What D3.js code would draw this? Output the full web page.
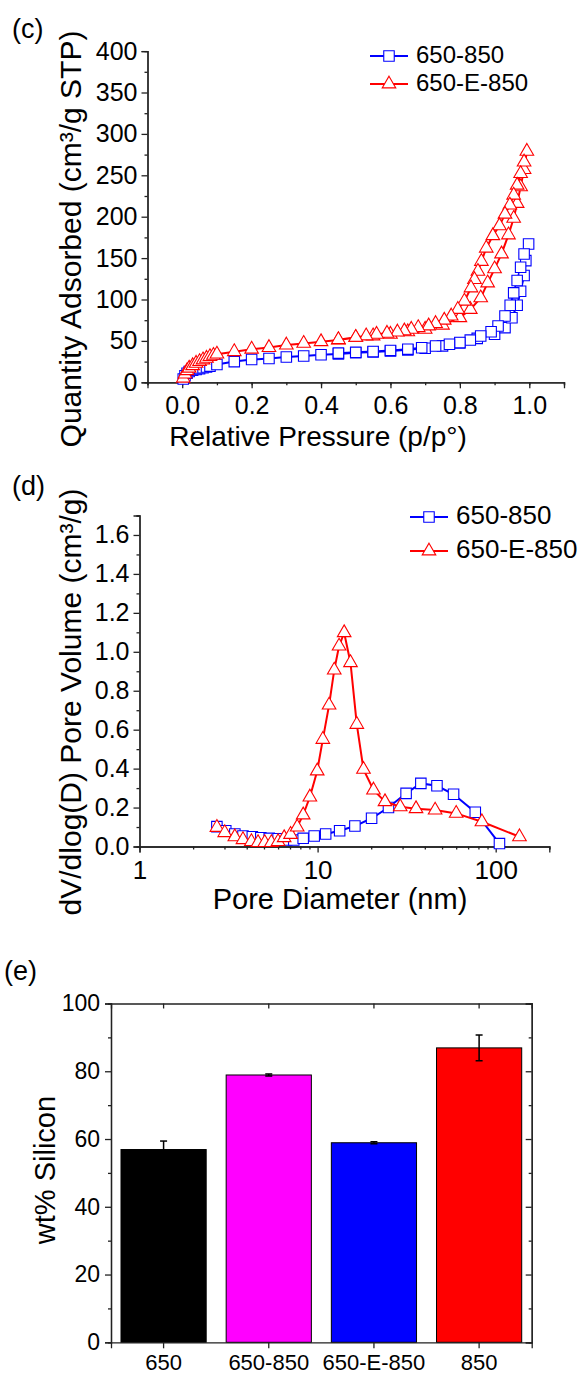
<!doctype HTML>
<html>
<head>
    <script src="https://d3js.org/d3.v7.min.js"></script>
    <style>
        body { margin: 0; background: #fff; }
        text { font-family: "Liberation Sans", Arial, sans-serif; fill: #000; }
    </style>
</head>
<body>
<script>
    // (c) N2 isotherms, [p/p0, quantity adsorbed]
    var isoBlueAds = [[0.003,4],[0.008,8],[0.014,11],[0.02,13],[0.03,14.5],[0.04,15.5],[0.05,16.5],[0.06,17.5],
        [0.07,18.5],[0.08,19.5],[0.1,21.5],[0.15,25],[0.2,27.5],[0.25,28.8],[0.3,30.5],[0.35,31.8],[0.4,33.2],
        [0.45,34.3],[0.5,35.6],[0.55,36.6],[0.6,37.8],[0.65,39.2],[0.7,41.2],[0.75,44],[0.8,47.5],[0.85,53],
        [0.9,58],[0.93,66],[0.95,78],[0.965,93],[0.975,110],[0.985,129],[0.99,147],[0.998,167]];
    var isoBlueDes = [[0.985,155],[0.975,139],[0.965,123],[0.955,108],[0.945,93],[0.93,80],[0.91,68],[0.89,61],
        [0.86,56],[0.83,51],[0.8,48],[0.77,46],[0.73,43.8],[0.69,41.8],[0.65,40],[0.6,38.5],[0.55,37.2],
        [0.5,36.2],[0.45,35.2]];
    var isoRedAds = [[0.003,5],[0.008,10],[0.014,14],[0.02,17],[0.03,20],[0.04,23],[0.05,25],[0.06,27],[0.07,29],
        [0.08,31],[0.09,32.5],[0.1,34],[0.15,37],[0.2,40],[0.25,42],[0.3,45],[0.35,47],[0.4,49],[0.45,51],
        [0.5,54],[0.55,56],[0.6,58],[0.65,61],[0.7,64],[0.75,69],[0.8,78],[0.83,88],[0.86,102],[0.88,120],
        [0.9,137],[0.92,155],[0.94,178],[0.955,198],[0.965,216],[0.975,236],[0.985,257],[0.993,279]];
    var isoRedDes = [[0.985,266],[0.975,252],[0.965,238],[0.955,226],[0.944,214],[0.93,203],[0.914,189],
        [0.895,177],[0.876,162],[0.862,146],[0.852,134],[0.842,124],[0.832,114],[0.813,98],[0.794,88],
        [0.775,80],[0.755,75],[0.73,71],[0.71,68],[0.68,66],[0.66,64],[0.64,62],[0.62,60.7],[0.59,59.2],
        [0.56,58],[0.53,56],[0.5,54.3],[0.45,51.5]];

    // (d) pore size distribution, [pore diameter nm, dV/dlog(D)]
    var psdBlue = [[2.72,0.102],[3.05,0.081],[3.43,0.064],[3.81,0.054],[4.3,0.05],[4.8,0.045],[5.35,0.042],
        [6.0,0.04],[6.7,0.033],[7.35,0.033],[8.3,0.042],[9.57,0.054],[11.1,0.064],[13.3,0.081],[16.2,0.105],
        [20.1,0.145],[25,0.2],[31.4,0.273],[38,0.324],[46.8,0.312],[58,0.268],[76.8,0.176],[105,0.015]];
    var psdRed = [[2.72,0.098],[3.01,0.071],[3.43,0.05],[3.81,0.035],[4.25,0.025],[4.63,0.02],[5.05,0.02],
        [5.5,0.02],[6.0,0.025],[6.49,0.045],[7.05,0.062],[7.68,0.1],[8.3,0.162],[9.05,0.254],[9.95,0.388],
        [10.7,0.55],[11.6,0.726],[12.4,0.906],[13.2,1.029],[14.1,1.098],[15.3,0.944],[16.6,0.627],[18.1,0.396],
        [20.6,0.29],[23.9,0.23],[29.1,0.204],[35.7,0.194],[45.7,0.187],[60,0.17],[83.7,0.127],[136,0.05]];

    // (e) silicon content
    var samples = ["650", "650-850", "650-E-850", "850"];
    var silicon = [56.9, 78.9, 58.9, 86.9];
    var siliconErr = [2.5, 0.3, 0.3, 3.8];

    var seriesNames = ["650-850", "650-E-850"];

    var W = 587, H = 1374;
    var svg = d3.select("body").append("svg")
        .attr("width", W)
        .attr("height", H);

    var axisColor = "#222";
    var square = d3.symbol().type(d3.symbolSquare).size(110);
    var triangle = d3.symbol().type(d3.symbolTriangle).size(80);

    function styleAxis(g, fs) {
        g.select(".domain").attr("stroke", axisColor).attr("stroke-width", 1.3);
        g.selectAll(".tick line").attr("stroke", axisColor).attr("stroke-width", 1.3);
        g.selectAll(".tick text").attr("font-size", fs + "px")
            .attr("font-family", '"Liberation Sans", Arial, sans-serif').attr("fill", "#000");
        g.attr("font-family", null).attr("font-size", null);
    }

    function drawSeries(g, data, xs, ys, color, sym) {
        g.append("path")
            .datum(data)
            .attr("fill", "none")
            .attr("stroke", color)
            .attr("stroke-width", 2)
            .attr("d", d3.line().x(d => xs(d[0])).y(d => ys(d[1])));
        g.selectAll(null)
            .data(data)
            .enter().append("path")
            .attr("d", sym)
            .attr("transform", d => "translate(" + xs(d[0]) + "," + ys(d[1]) + ")")
            .attr("fill", "#fff")
            .attr("stroke", color)
            .attr("stroke-width", 1.1);
    }

    function legend(x, y, gap, fs) {
        var colors = ["#0000ff", "#ff0000"];
        var syms = [square, triangle];
        seriesNames.forEach(function(name, i) {
            var yy = y + i * gap;
            svg.append("line")
                .attr("x1", x).attr("x2", x + 38)
                .attr("y1", yy).attr("y2", yy)
                .attr("stroke", colors[i]).attr("stroke-width", 2);
            svg.append("path")
                .attr("d", syms[i])
                .attr("transform", "translate(" + (x + 19) + "," + yy + ")")
                .attr("fill", "#fff").attr("stroke", colors[i]).attr("stroke-width", 1.1);
            svg.append("text")
                .attr("x", x + 46).attr("y", yy + 7)
                .attr("font-size", fs + "px")
                .text(name);
        });
    }

    // ---------- (c) isotherm ----------
    var xC = d3.scaleLinear().domain([-0.1, 1.1]).range([147.5, 564]);
    var yC = d3.scaleLinear().domain([0, 400]).range([382.3, 51.1]);

    svg.append("g")
        .attr("transform", "translate(0," + yC(0) + ")")
        .call(d3.axisBottom(xC).tickValues(d3.range(-0.1, 1.15, 0.1)).tickSize(3).tickFormat(""))
        .call(g => styleAxis(g, 24));
    svg.append("g")
        .attr("transform", "translate(0," + yC(0) + ")")
        .call(d3.axisBottom(xC).tickValues([0, 0.2, 0.4, 0.6, 0.8, 1.0]).tickSize(6).tickPadding(8)
            .tickFormat(d3.format(".1f")))
        .call(g => styleAxis(g, 25));
    svg.append("g")
        .attr("transform", "translate(" + xC(-0.1) + ",0)")
        .call(d3.axisLeft(yC).tickValues(d3.range(25, 400, 50)).tickSize(3).tickFormat(""))
        .call(g => styleAxis(g, 25));
    svg.append("g")
        .attr("transform", "translate(" + xC(-0.1) + ",0)")
        .call(d3.axisLeft(yC).tickValues(d3.range(0, 401, 50)).tickSize(6).tickPadding(4))
        .call(g => styleAxis(g, 25));

    var gC = svg.append("g");
    drawSeries(gC, isoBlueAds.concat(isoBlueDes), xC, yC, "#0000ff", square);
    drawSeries(gC, isoRedAds.concat(isoRedDes), xC, yC, "#ff0000", triangle);

    svg.append("text").attr("x", 12).attr("y", 38).attr("font-size", "27px").text("(c)");
    svg.append("text")
        .attr("x", 318).attr("y", 446)
        .attr("text-anchor", "middle")
        .attr("font-size", "28px")
        .text("Relative Pressure (p/p°)");
    svg.append("text")
        .attr("transform", "translate(81,239) rotate(-90)")
        .attr("text-anchor", "middle")
        .attr("font-size", "30px")
        .text("Quantity Adsorbed (cm³/g STP)");
    legend(370, 56, 28, 24);

    // ---------- (d) pore size distribution ----------
    var xD = d3.scaleLog().domain([1, 200]).range([139.5, 549.3]);
    var yD = d3.scaleLinear().domain([0, 1.7]).range([846.5, 515.5]);

    var minorLog = d3.range(2, 10).concat(d3.range(20, 100, 10)).concat([200]);
    svg.append("g")
        .attr("transform", "translate(0," + yD(0) + ")")
        .call(d3.axisBottom(xD).tickValues(minorLog).tickSize(3).tickFormat(""))
        .call(g => styleAxis(g, 25));
    svg.append("g")
        .attr("transform", "translate(0," + yD(0) + ")")
        .call(d3.axisBottom(xD).tickValues([1, 10, 100]).tickSize(6).tickPadding(8).tickFormat(d3.format("d")))
        .call(g => styleAxis(g, 26));
    svg.append("g")
        .attr("transform", "translate(" + xD(1) + ",0)")
        .call(d3.axisLeft(yD).tickValues(d3.range(0.1, 1.75, 0.2)).tickSize(3).tickFormat(""))
        .call(g => styleAxis(g, 25));
    svg.append("g")
        .attr("transform", "translate(" + xD(1) + ",0)")
        .call(d3.axisLeft(yD).tickValues(d3.range(0, 1.65, 0.2)).tickSize(6).tickPadding(4)
            .tickFormat(d3.format(".1f")))
        .call(g => styleAxis(g, 25));

    var gD = svg.append("g");
    drawSeries(gD, psdBlue, xD, yD, "#0000ff", square);
    drawSeries(gD, psdRed, xD, yD, "#ff0000", triangle);

    svg.append("text").attr("x", 12).attr("y", 495).attr("font-size", "27px").text("(d)");
    svg.append("text")
        .attr("x", 340).attr("y", 909)
        .attr("text-anchor", "middle")
        .attr("font-size", "29px")
        .text("Pore Diameter (nm)");
    svg.append("text")
        .attr("transform", "translate(81,702) rotate(-90)")
        .attr("text-anchor", "middle")
        .attr("font-size", "30px")
        .text("dV/dlog(D) Pore Volume (cm³/g)");
    legend(410, 517, 34, 26);

    // ---------- (e) silicon bar chart ----------
    var xE = d3.scaleBand().domain(samples).range([111, 531.7]).paddingInner(0.19).paddingOuter(0.095);
    var yE = d3.scaleLinear().domain([0, 100]).range([1342.3, 1003.5]);
    var barColors = ["#000000", "#ff00ff", "#0000ff", "#ff0000"];

    var gE = svg.append("g");
    gE.selectAll(".bar")
        .data(samples)
        .enter().append("rect")
        .attr("class", "bar")
        .attr("x", d => xE(d))
        .attr("y", (d, i) => yE(silicon[i]))
        .attr("width", xE.bandwidth())
        .attr("height", (d, i) => yE(0) - yE(silicon[i]))
        .attr("fill", (d, i) => barColors[i])
        .attr("stroke", "#000")
        .attr("stroke-width", 1);

    // error bars
    samples.forEach(function(s, i) {
        var cx = xE(s) + xE.bandwidth() / 2;
        var lo = yE(silicon[i] - siliconErr[i]), hi = yE(silicon[i] + siliconErr[i]);
        gE.append("line").attr("x1", cx).attr("x2", cx).attr("y1", lo).attr("y2", hi)
            .attr("stroke", "#000").attr("stroke-width", 1.5);
        [lo, hi].forEach(function(yy) {
            gE.append("line").attr("x1", cx - 3.5).attr("x2", cx + 3.5).attr("y1", yy).attr("y2", yy)
                .attr("stroke", "#000").attr("stroke-width", 1.5);
        });
    });

    svg.append("g")
        .attr("transform", "translate(0," + yE(0) + ")")
        .call(d3.axisBottom(xE).tickSize(6).tickPadding(6))
        .call(g => styleAxis(g, 22));
    svg.append("g")
        .attr("transform", "translate(0," + yE(100) + ")")
        .call(d3.axisBottom(xE).tickSize(5).tickFormat(""))
        .call(g => styleAxis(g, 22));
    svg.append("g")
        .attr("transform", "translate(111,0)")
        .call(d3.axisLeft(yE).tickValues(d3.range(10, 100, 20)).tickSize(3).tickFormat(""))
        .call(g => styleAxis(g, 23));
    svg.append("g")
        .attr("transform", "translate(111,0)")
        .call(d3.axisLeft(yE).tickValues(d3.range(0, 101, 20)).tickSize(6).tickPadding(5))
        .call(g => styleAxis(g, 23));
    svg.append("g")
        .attr("transform", "translate(531.7,0)")
        .call(d3.axisRight(yE).tickValues(d3.range(10, 100, 20)).tickSize(-3).tickFormat(""))
        .call(g => styleAxis(g, 22));
    svg.append("g")
        .attr("transform", "translate(531.7,0)")
        .call(d3.axisRight(yE).tickValues(d3.range(0, 101, 20)).tickSize(-6).tickFormat(""))
        .call(g => styleAxis(g, 22));

    svg.append("text").attr("x", 4).attr("y", 980).attr("font-size", "27px").text("(e)");
    svg.append("text")
        .attr("transform", "translate(55,1170) rotate(-90)")
        .attr("text-anchor", "middle")
        .attr("font-size", "29px")
        .text("wt% Silicon");
</script>
</body>
</html>
